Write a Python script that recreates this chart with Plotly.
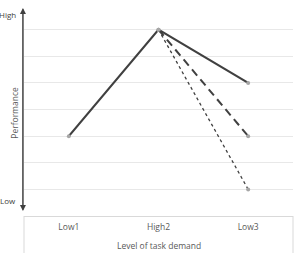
import plotly.graph_objects as go

categories = ["Low1", "High2", "Low3"]
solid_y = [3, 7, 5]
dash_x = ["High2", "Low3"]
dash_y = [7, 3]
dot_x = ["High2", "Low3"]
dot_y = [7, 1]

LINE = "#404040"
MARK = "#a6a6a6"
FONT = "Open Sans"

fig = go.Figure()
fig.add_trace(go.Scatter(x=categories, y=solid_y, mode="lines+markers",
                         line=dict(color=LINE, width=2.2),
                         marker=dict(color=MARK, size=4)))
fig.add_trace(go.Scatter(x=dash_x, y=dash_y, mode="lines+markers",
                         line=dict(color=LINE, width=2, dash="8px,5px"),
                         marker=dict(color=MARK, size=4)))
fig.add_trace(go.Scatter(x=dot_x, y=dot_y, mode="lines+markers",
                         line=dict(color=LINE, width=1.3, dash="dot"),
                         marker=dict(color=MARK, size=4)))

fig.update_layout(
    width=295, height=253,
    margin=dict(l=24, r=2, t=3, b=37),
    paper_bgcolor="white", plot_bgcolor="white",
    showlegend=False,
    font=dict(family=FONT, size=8.5, color="#595959"),
    xaxis=dict(type="category", categoryorder="array", categoryarray=categories,
               range=[-0.5, 2.5],
               showgrid=False, showline=True, linecolor="#d9d9d9", linewidth=1,
               ticks="", tickfont=dict(size=8.5, color="#595959"), ticklabelstandoff=3,
               fixedrange=True),
    yaxis=dict(range=[0, 8], dtick=1, showgrid=True, gridcolor="#e8e8e8", gridwidth=1,
               showticklabels=False, zeroline=False, showline=False, fixedrange=True),
)

# box around category labels
for xp in [0, 1]:
    fig.add_shape(type="line", xref="paper", yref="paper", x0=xp, x1=xp, y0=0, y1=-0.3,
                  line=dict(color="#d9d9d9", width=1))

# y axis with arrows
fig.add_annotation(xref="paper", yref="paper", x=-0.004, y=0.977, ax=0, ay=203,
                   text="", showarrow=True, arrowhead=2, arrowsize=1.2, arrowwidth=1,
                   arrowcolor=LINE)
fig.add_annotation(xref="paper", yref="paper", x=-0.004, y=0.023, ax=0, ay=-203,
                   text="", showarrow=True, arrowhead=2, arrowsize=1.2, arrowwidth=1,
                   arrowcolor=LINE)

fig.add_annotation(xref="paper", yref="paper", x=0, y=0.948, xshift=-6, xanchor="right",
                   yanchor="middle", text="High", showarrow=False,
                   font=dict(size=8, color="#404040"))
fig.add_annotation(xref="paper", yref="paper", x=0, y=0.075, xshift=-6, xanchor="right",
                   yanchor="middle", text="Low", showarrow=False,
                   font=dict(size=8, color="#404040"))
fig.add_annotation(xref="paper", yref="paper", x=0, y=0.485, xshift=-9, xanchor="center",
                   yanchor="middle", textangle=-90,
                   text="Performance", showarrow=False, font=dict(size=8.5, color="#595959"))
fig.add_annotation(xref="paper", yref="paper", x=0.5, y=0, yshift=-29, yanchor="middle",
                   text="Level of task demand", showarrow=False,
                   font=dict(size=8.5, color="#595959"))

fig.write_html("out.html")
